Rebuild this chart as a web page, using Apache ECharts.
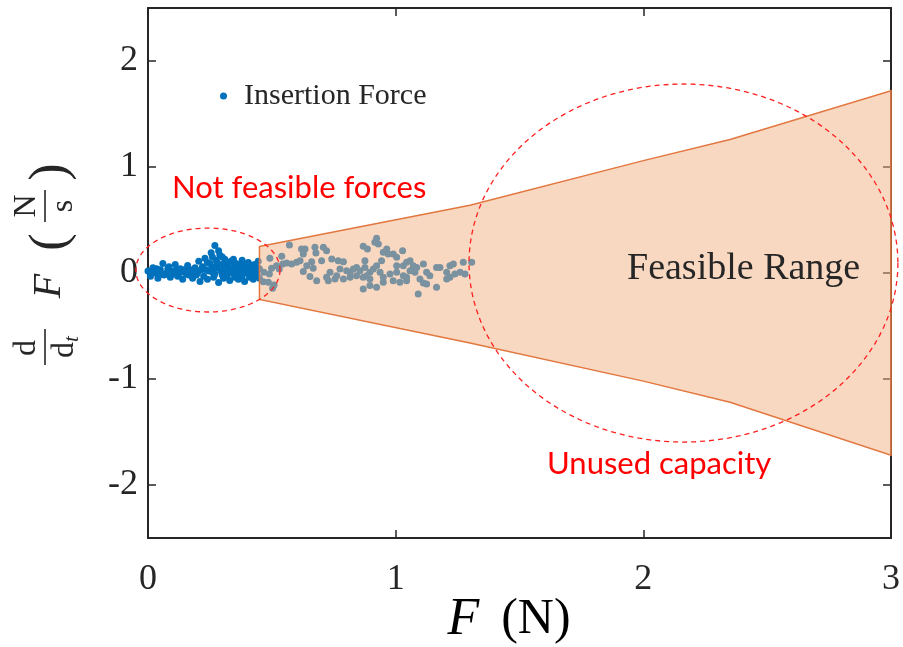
<!DOCTYPE html>
<html>
<head>
<meta charset="utf-8">
<script src="https://cdn.jsdelivr.net/npm/echarts@6/dist/echarts.min.js"></script>
<style>
  html, body { margin: 0; padding: 0; background: #fff; }
  #chart { width: 903px; height: 647px; }
</style>
</head>
<body>
<div id="chart"></div>
<script>
// tick labels
var xTicks = [0, 1, 2, 3];
var yTicks = [-2, -1, 0, 1, 2];

// insertion force samples below the feasible range (blue)
var lowForce = [
  [0.00,0.02],[0.01,-0.03],[0.015,0.01],[0.02,0.05],[0.03,0.00],[0.035,0.04],[0.04,-0.05],[0.05,0.03],
  [0.055,-0.01],[0.06,0.09],[0.065,-0.02],[0.075,0.00],[0.08,0.04],[0.085,0.06],[0.09,-0.04],[0.095,0.02],
  [0.10,0.01],[0.105,-0.01],[0.11,0.08],[0.115,0.03],[0.12,-0.03],[0.125,0.00],[0.13,0.04],[0.135,0.01],
  [0.14,-0.06],[0.145,0.03],[0.15,0.02],[0.155,-0.01],[0.16,0.07],[0.165,-0.02],[0.17,0.03],[0.175,0.01],
  [0.18,-0.05],[0.185,0.02],[0.19,0.05],[0.195,-0.02],[0.20,0.00],[0.205,0.11],[0.21,-0.08],[0.215,0.03],
  [0.22,0.06],[0.225,-0.03],[0.23,0.14],[0.235,0.03],[0.24,-0.06],[0.24,0.10],[0.245,0.02],[0.25,0.09],
  [0.255,0.19],[0.26,0.01],[0.26,0.06],[0.26,0.15],[0.265,-0.04],[0.27,0.26],[0.27,-0.01],[0.275,0.12],
  [0.28,0.05],[0.28,0.10],[0.285,-0.09],[0.285,0.21],[0.29,0.17],[0.295,0.02],[0.30,0.08],[0.30,-0.02],
  [0.30,0.15],[0.305,-0.05],[0.31,0.13],[0.31,0.06],[0.315,0.03],[0.32,-0.02],[0.32,0.09],[0.325,0.06],
  [0.33,-0.07],[0.33,0.02],[0.335,0.11],[0.34,0.00],[0.345,0.04],[0.345,0.13],[0.35,-0.04],[0.35,0.07],
  [0.355,0.09],[0.36,0.02],[0.36,-0.02],[0.365,-0.06],[0.37,0.07],[0.37,0.03],[0.375,-0.01],[0.38,0.12],
  [0.38,-0.03],[0.385,0.03],[0.39,-0.08],[0.39,0.08],[0.395,0.05],[0.40,0.00],[0.40,0.06],[0.405,0.10],
  [0.41,-0.04],[0.41,0.02],[0.415,0.06],[0.42,0.01],[0.42,0.07],[0.425,-0.06],[0.43,0.08],[0.43,-0.03],
  [0.435,0.03],[0.44,-0.02],[0.44,0.05],[0.445,0.11],[0.45,0.04],[0.45,-0.05]
];

// insertion force samples inside the feasible range (show grey under the fill)
var highForce = [
  [0.468,0.006],[0.466,-0.082],[0.486,-0.088],[0.490,-0.009],[0.492,0.138],[0.499,0.044],[0.503,-0.145],
  [0.509,-0.113],[0.519,0.069],[0.530,0.038],[0.540,0.157],[0.544,0.085],[0.560,0.094],[0.571,0.264],
  [0.580,0.085],[0.600,0.101],[0.614,0.116],[0.620,0.226],[0.627,0.179],[0.627,0.013],[0.634,0.226],
  [0.641,0.069],[0.654,-0.032],[0.661,0.107],[0.667,0.044],[0.674,0.242],[0.678,0.189],[0.681,-0.072],
  [0.701,0.116],[0.708,0.242],[0.721,0.211],[0.721,-0.041],[0.728,-0.072],[0.735,0.006],[0.742,0.132],
  [0.755,-0.057],[0.762,-0.025],[0.768,0.116],[0.775,0.038],[0.789,0.107],[0.789,-0.057],[0.802,0.022],
  [0.816,0.006],[0.816,-0.041],[0.829,0.038],[0.842,0.053],[0.842,-0.025],[0.856,0.022],[0.869,-0.041],
  [0.869,0.252],[0.869,-0.151],[0.876,0.053],[0.876,0.116],[0.883,-0.025],[0.886,0.226],[0.896,-0.057],
  [0.896,0.006],[0.896,-0.119],[0.910,0.038],[0.916,0.289],[0.923,0.327],[0.923,0.069],[0.923,-0.135],
  [0.930,0.274],[0.937,0.006],[0.943,0.116],[0.950,0.195],[0.950,-0.041],[0.950,-0.088],[0.964,0.226],
  [0.970,0.179],[0.977,-0.009],[0.990,0.179],[0.990,-0.072],[1.004,0.148],[1.004,0.006],[1.004,0.069],
  [1.017,-0.088],[1.028,0.211],[1.031,-0.025],[1.031,0.069],[1.044,-0.041],[1.044,-0.072],[1.044,0.101],
  [1.058,0.116],[1.058,0.022],[1.071,0.069],[1.078,0.006],[1.085,0.053],[1.091,-0.198],[1.098,-0.057],
  [1.112,0.085],[1.112,-0.095],[1.125,0.006],[1.125,-0.104],[1.138,-0.025],[1.165,0.053],[1.165,-0.135],
  [1.179,0.053],[1.206,0.006],[1.206,-0.057],[1.219,0.069],[1.219,-0.041],[1.233,0.085],[1.239,-0.009],
  [1.260,0.006],[1.273,0.101],[1.280,-0.009],[1.307,0.101]
];

// feasible range boundary
var rangeF = [0.45, 1.3, 2.0, 2.35, 3.0];
var rangeUpper = [0.25, 0.64, 1.06, 1.26, 1.72];
var rangeLower = [-0.25, -0.66, -1.02, -1.22, -1.72];

// dashed ellipses: centre F, centre dF, radius F, radius dF
var ellipseF = [0.242, 2.162];
var ellipseD = [0.028, 0.094];
var ellipseRF = [0.291, 0.866];
var ellipseRD = [0.396, 1.689];

var insertion = lowForce.concat(highForce);

var serif = '"Liberation Serif", "DejaVu Serif", serif';
var sans = 'Lato, "Open Sans", sans-serif';
var ink = '#262626';

var chart = echarts.init(document.getElementById('chart'));

function renderFeasible(params, api) {
  var pts = [];
  for (var i = 0; i < rangeF.length; i++) pts.push(api.coord([rangeF[i], rangeUpper[i]]));
  for (var j = rangeF.length - 1; j >= 0; j--) pts.push(api.coord([rangeF[j], rangeLower[j]]));
  return {
    type: 'polygon',
    shape: { points: pts },
    style: { fill: 'rgba(244,177,131,0.5)', stroke: '#E2773F', lineWidth: 1.5 }
  };
}

function renderEllipse(params, api) {
  var c = api.coord([api.value(0), api.value(1)]);
  var s = api.size([api.value(2), api.value(3)]);
  var pts = [];
  for (var k = 0; k <= 120; k++) {
    var a = k / 120 * Math.PI * 2;
    pts.push([c[0] + s[0] * Math.cos(a), c[1] + s[1] * Math.sin(a)]);
  }
  return {
    type: 'polyline',
    shape: { points: pts },
    style: { fill: null, stroke: '#FF2020', lineWidth: 1.3, lineDash: [5, 4] }
  };
}

var ellipseData = ellipseF.map(function (f, i) {
  return [f, ellipseD[i], ellipseRF[i], ellipseRD[i]];
});

var boxAxisX = {
  type: 'value', min: 0, max: 3, interval: 1,
  axisLine: { onZero: false, lineStyle: { color: ink, width: 2 } },
  axisTick: { inside: true, length: 8, lineStyle: { color: ink, width: 1.5 } },
  splitLine: { show: false }
};
var boxAxisY = {
  type: 'value', min: -2.5, max: 2.5,
  axisLine: { onZero: false, lineStyle: { color: ink, width: 2 } },
  axisTick: { inside: true, length: 8, customValues: yTicks, lineStyle: { color: ink, width: 1.5 } },
  splitLine: { show: false }
};

var option = {
  animation: false,
  grid: { left: 148, right: 12, top: 8, bottom: 109, outerBoundsMode: 'none', containLabel: false },
  legend: {
    left: 215, top: 76,
    icon: 'circle', itemWidth: 7, itemHeight: 7, itemGap: 10,
    data: ['Insertion Force'],
    textStyle: { fontFamily: serif, fontSize: 30, color: ink, padding: [0, 0, 0, 12] }
  },
  xAxis: [
    Object.assign({}, boxAxisX, {
      position: 'bottom',
      axisLabel: { customValues: xTicks, margin: 24, fontFamily: serif, fontSize: 36, color: ink }
    }),
    Object.assign({}, boxAxisX, { position: 'top', axisLabel: { show: false } })
  ],
  yAxis: [
    Object.assign({}, boxAxisY, {
      position: 'left',
      axisLabel: { customValues: yTicks, margin: 10, fontFamily: serif, fontSize: 36, color: ink }
    }),
    Object.assign({}, boxAxisY, { position: 'right', axisLabel: { show: false } })
  ],
  series: [
    {
      name: 'Insertion Force',
      type: 'scatter',
      data: insertion,
      symbolSize: 7,
      itemStyle: { color: '#0072BD', opacity: 1 },
      z: 2
    },
    {
      name: 'Feasible Range',
      type: 'custom',
      renderItem: renderFeasible,
      data: [[rangeF[0], rangeUpper[0]]],
      z: 3,
      silent: true
    },
    {
      name: 'ellipses',
      type: 'custom',
      renderItem: renderEllipse,
      data: ellipseData,
      encode: { x: 0, y: 1 },
      clip: false,
      z: 4,
      silent: true
    }
  ],
  graphic: [
    {
      type: 'text', left: 172, top: 172, z: 10,
      style: { text: 'Not feasible forces', font: '31px ' + sans, fill: '#FF0000' }
    },
    {
      type: 'text', left: 547, top: 448, z: 10,
      style: { text: 'Unused capacity', font: '31px ' + sans, fill: '#FF0000' }
    },
    {
      type: 'text', left: 627, top: 250, z: 10,
      style: { text: 'Feasible Range', font: '38px ' + serif, fill: ink }
    },
    {
      // x-axis label: F (N)
      type: 'text', x: 509, y: 620, z: 10,
      style: {
        text: '{i|F}{n|(N)}', align: 'center', verticalAlign: 'middle',
        rich: {
          i: { fontFamily: serif, fontStyle: 'italic', fontSize: 52, color: ink, padding: [0, 22, 0, 0] },
          n: { fontFamily: serif, fontSize: 50, color: ink }
        }
      }
    },
    {
      // y-axis label: d/dt F (N/s), written bottom to top
      type: 'group', x: 47, y: 268, rotation: Math.PI / 2, z: 10,
      children: [
        { type: 'text', x: -80, y: -20, style: { text: 'd', font: '32px ' + serif, fill: ink, align: 'center', verticalAlign: 'middle' } },
        { type: 'line', shape: { x1: -97, y1: -2, x2: -61, y2: -2 }, style: { stroke: ink, lineWidth: 1.6 } },
        { type: 'text', x: -79, y: 18, style: { text: '{a|d}{b|t}', fill: ink, align: 'center', verticalAlign: 'middle',
            rich: { a: { fontFamily: serif, fontSize: 32, color: ink }, b: { fontFamily: serif, fontStyle: 'italic', fontSize: 21, color: ink, padding: [14, 0, 0, 0] } } } },
        { type: 'text', x: -18, y: 2, style: { text: 'F', font: 'italic 40px ' + serif, fill: ink, align: 'center', verticalAlign: 'middle' } },
        { type: 'text', x: 26, y: 4, style: { text: '(', font: '52px ' + serif, fill: ink, align: 'center', verticalAlign: 'middle' } },
        { type: 'text', x: 62, y: -20, style: { text: 'N', font: '32px ' + serif, fill: ink, align: 'center', verticalAlign: 'middle' } },
        { type: 'line', shape: { x1: 46, y1: -2, x2: 78, y2: -2 }, style: { stroke: ink, lineWidth: 1.6 } },
        { type: 'text', x: 62, y: 17, style: { text: 's', font: '32px ' + serif, fill: ink, align: 'center', verticalAlign: 'middle' } },
        { type: 'text', x: 96, y: 4, style: { text: ')', font: '52px ' + serif, fill: ink, align: 'center', verticalAlign: 'middle' } }
      ]
    }
  ]
};

chart.setOption(option);
</script>
</body>
</html>
